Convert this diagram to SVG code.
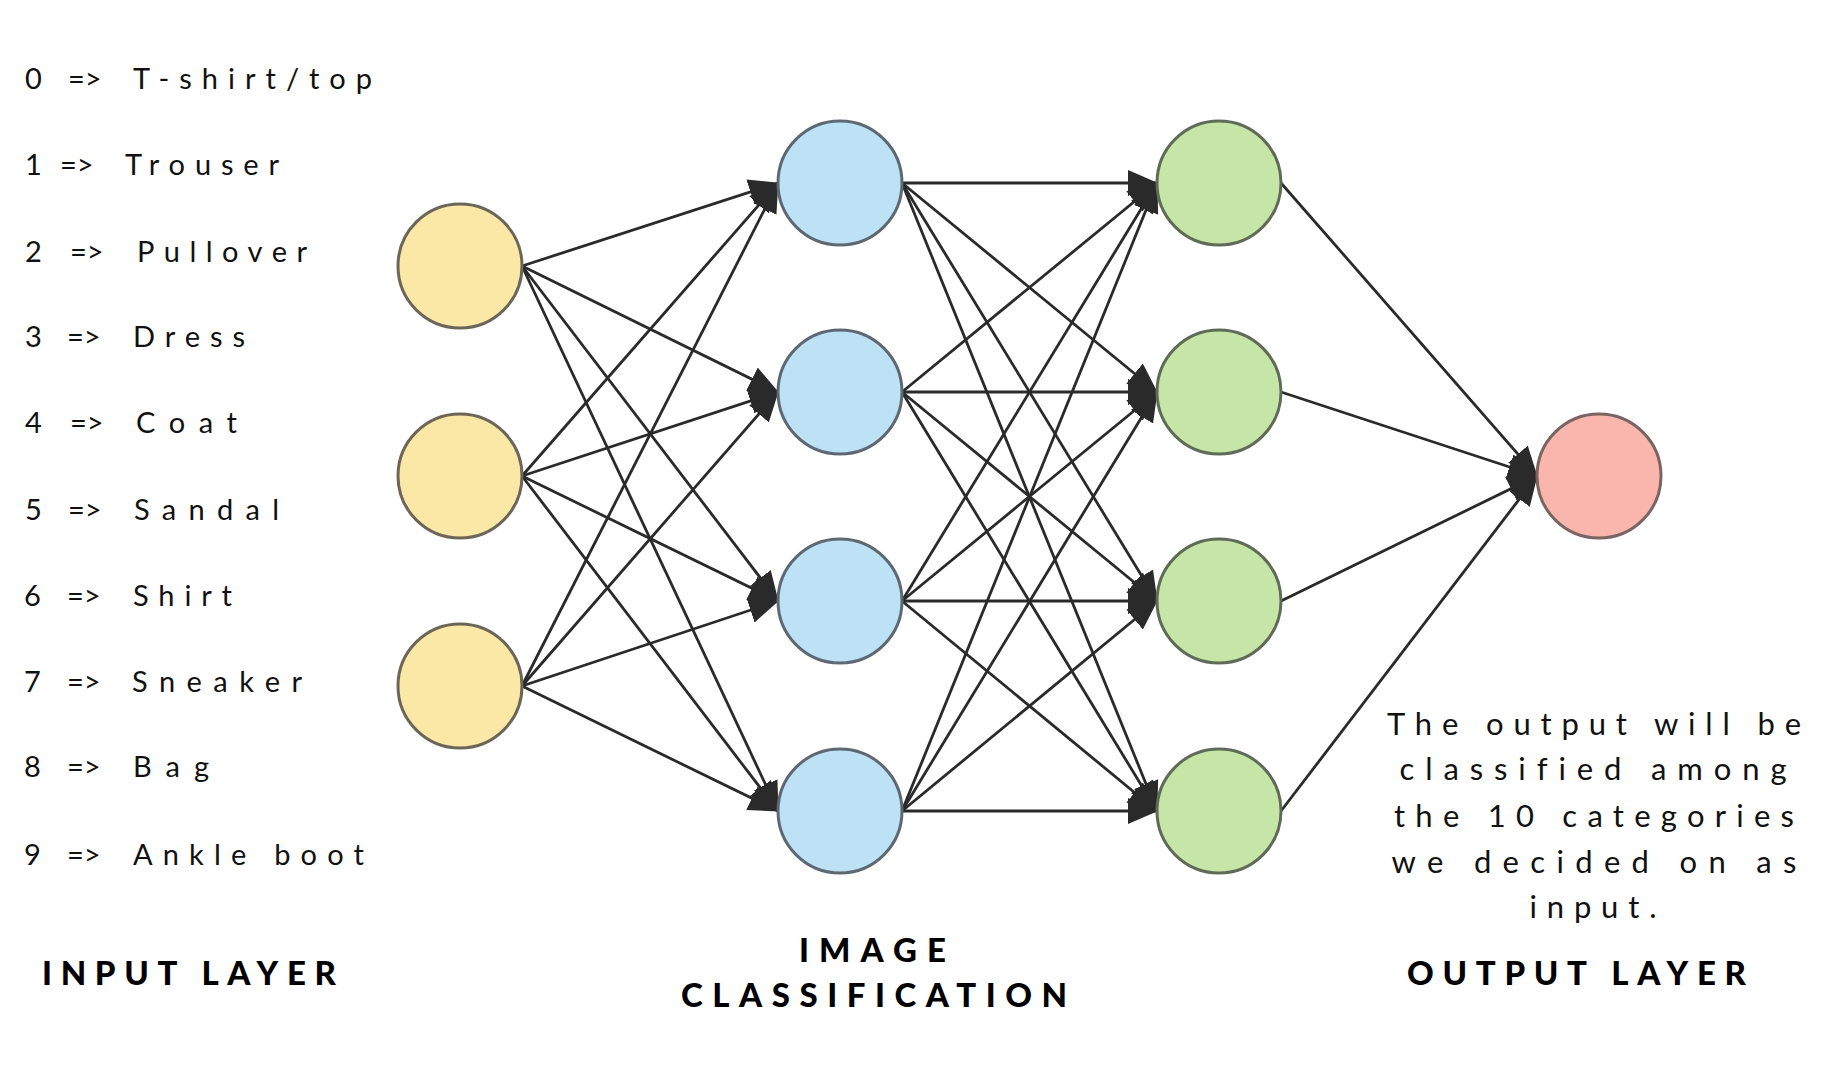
<svg xmlns="http://www.w3.org/2000/svg" width="1821" height="1079" viewBox="0 0 1821 1079">
<style>
.leg{font-family:Lato,"Open Sans","Liberation Sans",sans-serif;font-size:29px;fill:#111;font-variant-ligatures:none}
.desc{font-family:Lato,"Open Sans","Liberation Sans",sans-serif;font-size:31px;fill:#111;text-anchor:middle;font-variant-ligatures:none}
.ttl{font-family:Lato,"Open Sans","Liberation Sans",sans-serif;font-size:33px;font-weight:900;fill:#000}
.edge{stroke:#2a2a2a;stroke-width:2.8;fill:none;marker-end:url(#ah)}
.in{fill:#FCE8A6;stroke:#6b6658;stroke-width:3}
.h1{fill:#BEE2F5;stroke:#5d6873;stroke-width:3}
.h2{fill:#C6E6A8;stroke:#5f6b57;stroke-width:3}
.out{fill:#FAB5AD;stroke:#7a6462;stroke-width:3}
</style>
<defs>
<marker id="ah" markerUnits="userSpaceOnUse" markerWidth="30" markerHeight="28" viewBox="0 0 30 28" refX="29" refY="14" orient="auto">
<path d="M0,1 L30,14 L0,27 z" fill="#2a2a2a"/>
</marker>
</defs>
<rect width="1821" height="1079" fill="#fff"/>

<g id="connectors">
<line class="edge" x1="522" y1="266" x2="778" y2="183"/>
<line class="edge" x1="522" y1="266" x2="778" y2="392"/>
<line class="edge" x1="522" y1="266" x2="778" y2="601"/>
<line class="edge" x1="522" y1="266" x2="778" y2="811"/>
<line class="edge" x1="522" y1="476" x2="778" y2="183"/>
<line class="edge" x1="522" y1="476" x2="778" y2="392"/>
<line class="edge" x1="522" y1="476" x2="778" y2="601"/>
<line class="edge" x1="522" y1="476" x2="778" y2="811"/>
<line class="edge" x1="522" y1="686" x2="778" y2="183"/>
<line class="edge" x1="522" y1="686" x2="778" y2="392"/>
<line class="edge" x1="522" y1="686" x2="778" y2="601"/>
<line class="edge" x1="522" y1="686" x2="778" y2="811"/>

<line class="edge" x1="902" y1="183" x2="1157" y2="183"/>
<line class="edge" x1="902" y1="183" x2="1157" y2="392"/>
<line class="edge" x1="902" y1="183" x2="1157" y2="601"/>
<line class="edge" x1="902" y1="183" x2="1157" y2="811"/>
<line class="edge" x1="902" y1="392" x2="1157" y2="183"/>
<line class="edge" x1="902" y1="392" x2="1157" y2="392"/>
<line class="edge" x1="902" y1="392" x2="1157" y2="601"/>
<line class="edge" x1="902" y1="392" x2="1157" y2="811"/>
<line class="edge" x1="902" y1="601" x2="1157" y2="183"/>
<line class="edge" x1="902" y1="601" x2="1157" y2="392"/>
<line class="edge" x1="902" y1="601" x2="1157" y2="601"/>
<line class="edge" x1="902" y1="601" x2="1157" y2="811"/>
<line class="edge" x1="902" y1="811" x2="1157" y2="183"/>
<line class="edge" x1="902" y1="811" x2="1157" y2="392"/>
<line class="edge" x1="902" y1="811" x2="1157" y2="601"/>
<line class="edge" x1="902" y1="811" x2="1157" y2="811"/>

<line class="edge" x1="1281" y1="183" x2="1537" y2="476"/>
<line class="edge" x1="1281" y1="392" x2="1537" y2="476"/>
<line class="edge" x1="1281" y1="601" x2="1537" y2="476"/>
<line class="edge" x1="1281" y1="811" x2="1537" y2="476"/>
</g>

<g id="input-1"><circle class="in" cx="460" cy="266" r="62"/></g>
<g id="input-2"><circle class="in" cx="460" cy="476" r="62"/></g>
<g id="input-3"><circle class="in" cx="460" cy="686" r="62"/></g>

<g id="hidden1-1"><circle class="h1" cx="840" cy="183" r="62"/></g>
<g id="hidden1-2"><circle class="h1" cx="840" cy="392" r="62"/></g>
<g id="hidden1-3"><circle class="h1" cx="840" cy="601" r="62"/></g>
<g id="hidden1-4"><circle class="h1" cx="840" cy="811" r="62"/></g>

<g id="hidden2-1"><circle class="h2" cx="1219" cy="183" r="62"/></g>
<g id="hidden2-2"><circle class="h2" cx="1219" cy="392" r="62"/></g>
<g id="hidden2-3"><circle class="h2" cx="1219" cy="601" r="62"/></g>
<g id="hidden2-4"><circle class="h2" cx="1219" cy="811" r="62"/></g>

<g id="output"><circle class="out" cx="1599" cy="476" r="62"/></g>

<g id="legend">
<text class="leg" y="89"><tspan x="25">0</tspan><tspan x="68">=&gt;</tspan><tspan x="133" textLength="239" lengthAdjust="spacing">T-shirt/top</tspan></text>
<text class="leg" y="175"><tspan x="25">1</tspan><tspan x="60">=&gt;</tspan><tspan x="125" textLength="154" lengthAdjust="spacing">Trouser</tspan></text>
<text class="leg" y="262"><tspan x="25">2</tspan><tspan x="70">=&gt;</tspan><tspan x="137" textLength="170" lengthAdjust="spacing">Pullover</tspan></text>
<text class="leg" y="347"><tspan x="25">3</tspan><tspan x="67">=&gt;</tspan><tspan x="133" textLength="112" lengthAdjust="spacing">Dress</tspan></text>
<text class="leg" y="433"><tspan x="25">4</tspan><tspan x="70">=&gt;</tspan><tspan x="136" textLength="101" lengthAdjust="spacing">Coat</tspan></text>
<text class="leg" y="520"><tspan x="25">5</tspan><tspan x="68">=&gt;</tspan><tspan x="134" textLength="145" lengthAdjust="spacing">Sandal</tspan></text>
<text class="leg" y="606"><tspan x="24">6</tspan><tspan x="67">=&gt;</tspan><tspan x="133" textLength="99" lengthAdjust="spacing">Shirt</tspan></text>
<text class="leg" y="692"><tspan x="24">7</tspan><tspan x="67">=&gt;</tspan><tspan x="132" textLength="170" lengthAdjust="spacing">Sneaker</tspan></text>
<text class="leg" y="777"><tspan x="24">8</tspan><tspan x="67">=&gt;</tspan><tspan x="133" textLength="76" lengthAdjust="spacing">Bag</tspan></text>
<text class="leg" y="865"><tspan x="24">9</tspan><tspan x="67">=&gt;</tspan><tspan x="133" textLength="231" lengthAdjust="spacing">Ankle boot</tspan></text>
</g>

<g id="description">
<text class="desc" x="1594" y="735" textLength="414" lengthAdjust="spacing">The output will be</text>
<text class="desc" x="1593" y="780" textLength="387" lengthAdjust="spacing">classified among</text>
<text class="desc" x="1594" y="827" textLength="400" lengthAdjust="spacing">the 10 categories</text>
<text class="desc" x="1594" y="873" textLength="405" lengthAdjust="spacing">we decided on as</text>
<text class="desc" x="1593" y="918" textLength="127" lengthAdjust="spacing">input.</text>
</g>

<g id="titles">
<text class="ttl" x="42" y="985" textLength="294" lengthAdjust="spacing">INPUT LAYER</text>
<text class="ttl" x="799" y="962" textLength="147" lengthAdjust="spacing">IMAGE</text>
<text class="ttl" x="681" y="1007" textLength="386" lengthAdjust="spacing">CLASSIFICATION</text>
<text class="ttl" x="1407" y="985" textLength="339" lengthAdjust="spacing">OUTPUT LAYER</text>
</g>
</svg>
